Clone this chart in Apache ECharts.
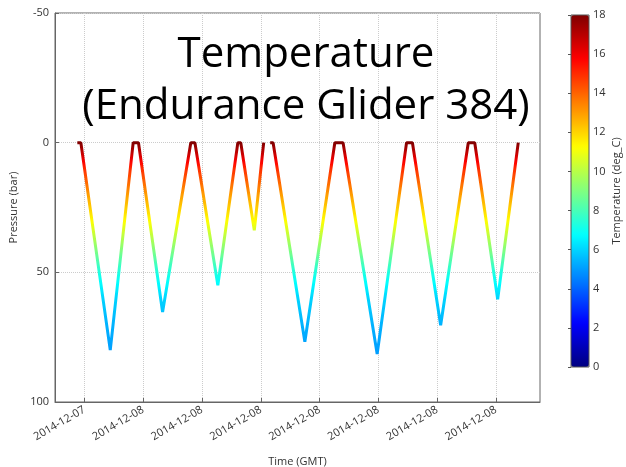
<!DOCTYPE html>
<html><head><meta charset="utf-8">
<script src="https://cdn.jsdelivr.net/npm/echarts@6/dist/echarts.min.js"></script>
<style>html,body{margin:0;padding:0;background:#fff}#c{width:626px;height:467px}</style>
</head><body><div id="c"></div>
<script>
// time in units of tick spacing (arbitrary glider time index)
const timeValues =     [0.38, 0.44, 0.94, 1.33, 1.42, 1.83, 2.31, 2.38, 2.77, 3.11, 3.16, 3.39, 3.55, 3.60, 3.66, 3.71, 4.25, 4.76, 4.90, 5.48, 5.98, 6.08, 6.56, 7.03, 7.14, 7.53, 7.88];
const pressureValues = [0,    0,    80,   0,    0,    65.3, 0,    0,    55,   0,    0,    33.8, 0,    null, 0,    0,    76.8, 0,    0,    81.5, 0,    0,    70.4, 0,    0,    60.4, 0];
const timeTickValues = [0.5, 1.5, 2.5, 3.5, 4.5, 5.5, 6.5, 7.5];
const timeTickLabels = ['2014-12-07', '2014-12-08', '2014-12-08', '2014-12-08', '2014-12-08', '2014-12-08', '2014-12-08', '2014-12-08'];
const pressureTickLabels = {'-50': '-50', '0': '0', '50': '50', '100': '100'};
const profilePressure = [0, 5, 10, 20, 30, 40, 50, 60, 70, 85];
const profileTemp =     [18, 16.5, 15, 13, 11.3, 9.3, 7.3, 6.0, 5.4, 4.9];
const tempMin = 0, tempMax = 18;

function jet(t) {
  const c = v => Math.round(255 * Math.max(0, Math.min(1, v)));
  const r = c(1.5 - Math.abs(4 * t - 3));
  const g = c(1.5 - Math.abs(4 * t - 2));
  const b = c(1.5 - Math.abs(4 * t - 1));
  return 'rgb(' + r + ',' + g + ',' + b + ')';
}
function tempAt(p) {
  for (let i = 0; i < profilePressure.length - 1; i++) {
    if (p <= profilePressure[i + 1]) {
      const f = (p - profilePressure[i]) / (profilePressure[i + 1] - profilePressure[i]);
      return profileTemp[i] + f * (profileTemp[i + 1] - profileTemp[i]);
    }
  }
  return profileTemp[profileTemp.length - 1];
}
const barColors = [];
for (let i = 0; i <= 64; i++) barColors.push(jet(i / 64));
const pMax = profilePressure[profilePressure.length - 1];
const lineColors = [];
for (let p = 0; p <= pMax; p++) lineColors.push(jet((tempAt(p) - tempMin) / (tempMax - tempMin)));

const data = timeValues.map((t, i) => [t, pressureValues[i] === null ? '-' : pressureValues[i]]);

const txt = '#333';
const font = 'Open Sans';
const chart = echarts.init(document.getElementById('c'), null, {renderer: 'canvas'});
chart.setOption({
  animation: false,
  backgroundColor: '#fff',
  textStyle: {fontFamily: font},
  title: {
    text: 'Temperature\n(Endurance Glider 384)',
    left: 306, top: 29, padding: 0, textAlign: 'center',
    textStyle: {fontFamily: font, fontSize: 42, fontWeight: 'normal', color: '#000', lineHeight: 52}
  },
  grid: [
    {left: 55, right: 86, top: 13, bottom: 65, outerBoundsMode: 'none', containLabel: false, show: true, borderColor: '#666', borderWidth: 1, backgroundColor: 'transparent'},
    {left: 571, top: 15, width: 18, height: 352, outerBoundsMode: 'none', containLabel: false, show: true, borderColor: '#555', borderWidth: 1, backgroundColor: 'transparent', z: 10}
  ],
  xAxis: [
    {type: 'value', gridIndex: 0, min: 0, max: 8.25,
     name: 'Time (GMT)', nameLocation: 'middle', nameGap: 54, nameTextStyle: {fontSize: 11, color: txt},
     axisLine: {onZero: false, lineStyle: {color: '#666'}},
     axisTick: {inside: true, length: 4, customValues: timeTickValues, lineStyle: {color: '#666'}},
     axisLabel: {customValues: timeTickValues, rotate: 30, fontSize: 11, color: txt, margin: 7,
                 formatter: v => timeTickLabels[timeTickValues.indexOf(v)] || ''},
     splitLine: {show: true, lineStyle: {color: '#ccc', type: 'dotted'}}},
    {type: 'value', gridIndex: 1, show: false, min: 0, max: 1}
  ],
  yAxis: [
    {type: 'value', gridIndex: 0, inverse: true, min: -50, max: 100, interval: 50,
     name: 'Pressure (bar)', nameLocation: 'middle', nameGap: 31, nameTextStyle: {fontSize: 11, color: txt},
     axisLine: {show: true, onZero: false, lineStyle: {color: '#666'}},
     axisTick: {show: true, inside: true, length: 4, lineStyle: {color: '#666'}},
     axisLabel: {fontSize: 11, color: txt, margin: 6, formatter: v => pressureTickLabels[String(v)] || ''},
     splitLine: {show: true, lineStyle: {color: '#ccc', type: 'dotted'}}},
    {type: 'value', gridIndex: 1, position: 'right', min: tempMin, max: tempMax, interval: 2,
     name: 'Temperature (deg_C)', nameLocation: 'middle', nameGap: 22, nameTextStyle: {fontSize: 11, color: txt},
     axisLine: {show: false}, axisTick: {show: true, inside: true, length: 3, lineStyle: {color: '#555'}},
     axisLabel: {fontSize: 11, color: txt, margin: 4}, splitLine: {show: false}}
  ],
  visualMap: [
    {type: 'continuous', seriesIndex: 1, min: tempMin, max: tempMax, left: 571, top: 15,
     itemWidth: 18, itemHeight: 352, padding: 0, calculable: false, hoverLink: false, text: null, showLabel: false,
     inRange: {color: barColors}},
    {type: 'continuous', show: false, seriesIndex: 0, dimension: 1, min: 0, max: pMax,
     inRange: {color: lineColors}}
  ],
  series: [
    {type: 'line', xAxisIndex: 0, yAxisIndex: 0, data: data, showSymbol: false, symbol: 'none',
     connectNulls: false, lineStyle: {width: 3}},
    {type: 'scatter', xAxisIndex: 1, yAxisIndex: 1, data: []}
  ]
});
</script></body></html>
